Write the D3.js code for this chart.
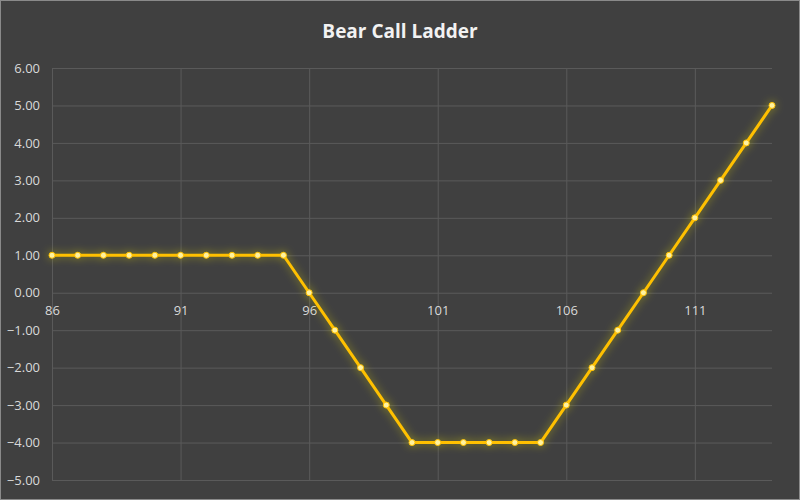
<!DOCTYPE html>
<html>
<head>
<meta charset="utf-8">
<script src="https://cdn.jsdelivr.net/npm/d3@7"></script>
<style>
  body { margin: 0; background: #404040; }
  svg { display: block; }
</style>
</head>
<body>
<svg id="chart" width="800" height="500"></svg>
<script>
// strike prices and payoff
const prices = [86, 87, 88, 89, 90, 91, 92, 93, 94, 95, 96, 97, 98, 99, 100,
                101, 102, 103, 104, 105, 106, 107, 108, 109, 110, 111, 112, 113, 114];
const payoff = [1, 1, 1, 1, 1, 1, 1, 1, 1, 1, 0, -1, -2, -3, -4,
                -4, -4, -4, -4, -4, -3, -2, -1, 0, 1, 2, 3, 4, 5];
const xTicks = [86, 91, 96, 101, 106, 111];
const yTicks = [-5, -4, -3, -2, -1, 0, 1, 2, 3, 4, 5, 6];

const width = 800, height = 500;
const margin = { top: 68, right: 28, bottom: 20, left: 52 };
const font = "'Open Sans', sans-serif";

const svg = d3.select("#chart");

svg.append("rect")
    .attr("x", 0.5).attr("y", 0.5)
    .attr("width", width - 1).attr("height", height - 1)
    .attr("fill", "#404040").attr("stroke", "#8a8a8a");

// yellow glow round the series
const defs = svg.append("defs");
const glow = defs.append("filter").attr("id", "glow")
    .attr("x", "-20%").attr("y", "-20%").attr("width", "140%").attr("height", "140%");
glow.append("feGaussianBlur").attr("in", "SourceAlpha").attr("stdDeviation", 4).attr("result", "blur");
glow.append("feFlood").attr("flood-color", "#e8e000").attr("flood-opacity", 0.55);
glow.append("feComposite").attr("in2", "blur").attr("operator", "in").attr("result", "halo");
const merge = glow.append("feMerge");
merge.append("feMergeNode").attr("in", "halo");
merge.append("feMergeNode").attr("in", "SourceGraphic");

const x = d3.scaleLinear().domain([86, 114]).range([margin.left, width - margin.right]);
const y = d3.scaleLinear().domain([-5, 6]).range([height - margin.bottom, margin.top]);

// horizontal grid + y labels
svg.append("g")
    .attr("transform", `translate(${margin.left},0)`)
    .call(d3.axisLeft(y).tickValues(yTicks).tickSize(-(x(114) - x(86))).tickPadding(12)
        .tickFormat(d3.format(".2f")))
    .call(g => g.select(".domain").remove())
    .call(g => g.selectAll("line").attr("stroke", "#5a5a5a"))
    .call(g => g.selectAll("text").attr("fill", "#d9d9d9")
        .attr("font-family", font).attr("font-size", 13));

// vertical grid
svg.append("g")
    .attr("transform", `translate(0,${margin.top})`)
    .call(d3.axisBottom(x).tickValues(xTicks).tickSize(y(-5) - y(6)).tickFormat(""))
    .call(g => g.select(".domain").remove())
    .call(g => g.selectAll("line").attr("stroke", "#5a5a5a"));

// x labels sit below the zero line
svg.append("g")
    .attr("transform", `translate(0,${y(0)})`)
    .call(d3.axisBottom(x).tickValues(xTicks).tickSize(0).tickPadding(13).tickFormat(d3.format("d")))
    .call(g => g.select(".domain").remove())
    .call(g => g.selectAll("text").attr("fill", "#d9d9d9")
        .attr("font-family", font).attr("font-size", 13));

const pts = prices.map((p, i) => ({ p, v: payoff[i] }));

const line = d3.line().x(d => x(d.p)).y(d => y(d.v));

const series = svg.append("g").attr("filter", "url(#glow)");
series.append("path")
    .datum(pts)
    .attr("fill", "none")
    .attr("stroke", "#ffc000")
    .attr("stroke-width", 3)
    .attr("stroke-linejoin", "round")
    .attr("d", line);

series.selectAll("circle").data(pts).join("circle")
    .attr("cx", d => x(d.p)).attr("cy", d => y(d.v))
    .attr("r", 3)
    .attr("fill", "#fff2a0")
    .attr("stroke", "#ffc000").attr("stroke-width", 1);

svg.append("text")
    .attr("x", width / 2).attr("y", 38)
    .attr("text-anchor", "middle")
    .attr("fill", "#f2f2f2")
    .attr("font-family", font)
    .attr("font-weight", "bold")
    .attr("font-size", 19)
    .text("Bear Call Ladder");
</script>
</body>
</html>
